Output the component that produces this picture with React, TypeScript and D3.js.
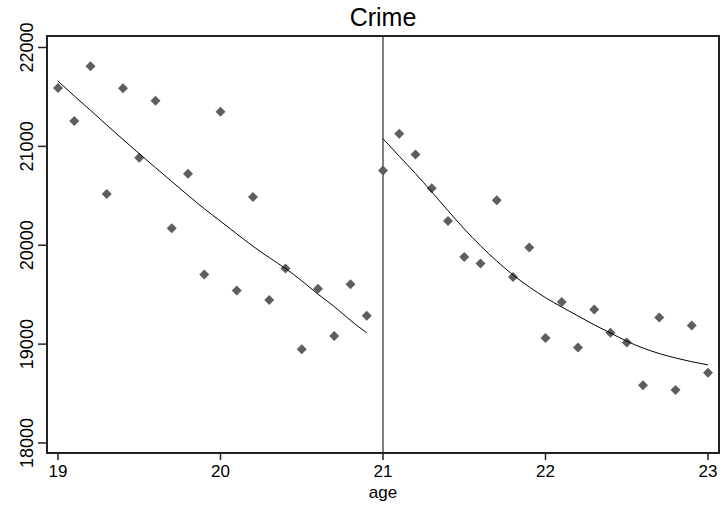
import React from "react";
import * as d3 from "d3";

const ages = [
  19.0, 19.1, 19.2, 19.3, 19.4, 19.5, 19.6, 19.7, 19.8, 19.9,
  20.0, 20.1, 20.2, 20.3, 20.4, 20.5, 20.6, 20.7, 20.8, 20.9,
  21.0, 21.1, 21.2, 21.3, 21.4, 21.5, 21.6, 21.7, 21.8, 21.9,
  22.0, 22.1, 22.2, 22.3, 22.4, 22.5, 22.6, 22.7, 22.8, 22.9, 23.0,
];
const crime = [
  21590, 21256, 21811, 20518, 21589, 20886, 21462, 20172, 20724, 19704,
  21351, 19542, 20488, 19447, 19765, 18949, 19559, 19081, 19606, 19286,
  20757, 21128, 20919, 20576, 20245, 19882, 19815, 20455, 19680, 19977,
  19061, 19427, 18967, 19350, 19114, 19017, 18583, 19270, 18535, 19189, 18710,
];
const fitLeftAges = [19.0, 19.1, 19.2, 19.3, 19.4, 19.5, 19.6, 19.7, 19.8, 19.9, 20.0, 20.1, 20.2, 20.3, 20.4, 20.5, 20.6, 20.7, 20.8, 20.9];
const fitLeft = [21660, 21510, 21365, 21215, 21070, 20926, 20785, 20645, 20505, 20370, 20243, 20115, 19990, 19875, 19765, 19640, 19505, 19380, 19240, 19114];
const fitRightAges = [21.0, 21.1, 21.2, 21.3, 21.4, 21.5, 21.6, 21.7, 21.8, 21.9, 22.0, 22.1, 22.2, 22.3, 22.4, 22.5, 22.6, 22.7, 22.8, 22.9, 23.0];
const fitRight = [21078, 20900, 20725, 20540, 20350, 20165, 19995, 19840, 19700, 19578, 19470, 19375, 19285, 19195, 19112, 19030, 18960, 18905, 18860, 18822, 18790];
const xTicks = [19, 20, 21, 22, 23];
const yTicks = [18000, 19000, 20000, 21000, 22000];
const cutoff = 21;
const title = "Crime";
const xLabel = "age";

export default function App() {
  const W = 722, H = 515;
  const left = 47, right = 719, top = 36, bottom = 453;
  const x = d3.scaleLinear().domain([19, 23]).range([58, 708]);
  const y = d3.scaleLinear().domain([18000, 22000]).range([443, 47.5]);
  const line = d3
    .line<[number, number]>()
    .x((d) => x(d[0]))
    .y((d) => y(d[1]))
    .curve(d3.curveMonotoneX);
  const marker = d3.symbol(d3.symbolSquare, 50)()!;
  const font = "'Liberation Sans', Arial, sans-serif";
  return (
    <svg width={W} height={H} style={{ position: "absolute", left: 0, top: 0, background: "#fff" }}>
      <rect x={0} y={0} width={W} height={H} fill="#fff" />
      <text x={383} y={26} textAnchor="middle" fontFamily={font} fontSize={25} fill="#000">{title}</text>
      <line x1={x(cutoff)} x2={x(cutoff)} y1={top} y2={bottom} stroke="#555" strokeWidth={1.5} />
      {ages.map((a, i) => (
        <path key={i} d={marker} transform={`translate(${x(a)},${y(crime[i])}) rotate(45)`} fill="#5e5e5e" />
      ))}
      <path d={line(fitLeftAges.map((a, i) => [a, fitLeft[i]]))!} fill="none" stroke="#000" strokeWidth={1} />
      <path d={line(fitRightAges.map((a, i) => [a, fitRight[i]]))!} fill="none" stroke="#000" strokeWidth={1} />
      <rect x={left} y={top} width={right - left} height={bottom - top} fill="none" stroke="#222" strokeWidth={2} />
      {yTicks.map((t) => (
        <g key={t}>
          <line x1={38} x2={left} y1={y(t)} y2={y(t)} stroke="#222" strokeWidth={1.5} />
          <text transform={`translate(33,${y(t)}) rotate(-90)`} textAnchor="middle" fontFamily={font} fontSize={18} fill="#000">{t}</text>
        </g>
      ))}
      {xTicks.map((t) => (
        <g key={t}>
          <line x1={x(t)} x2={x(t)} y1={bottom} y2={460} stroke="#222" strokeWidth={1.5} />
          <text x={x(t)} y={477} textAnchor="middle" fontFamily={font} fontSize={17} fill="#000">{t}</text>
        </g>
      ))}
      <text x={383} y={498} textAnchor="middle" fontFamily={font} fontSize={17} fill="#000">{xLabel}</text>
    </svg>
  );
}
